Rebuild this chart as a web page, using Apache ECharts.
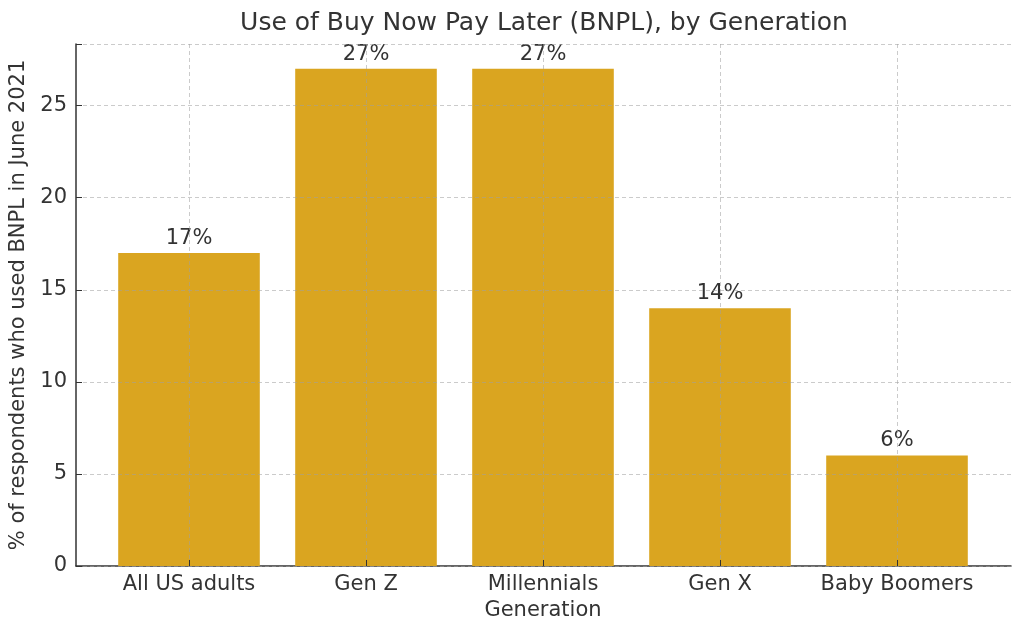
<!DOCTYPE html>
<html>
<head>
<meta charset="utf-8">
<script src="https://cdn.jsdelivr.net/npm/echarts@6/dist/echarts.min.js"></script>
<style>html,body{margin:0;padding:0;background:#fff}#c{width:1024px;height:635px}</style>
</head>
<body>
<div id="c"></div>
<script>
const categories = ['All US adults', 'Gen Z', 'Millennials', 'Gen X', 'Baby Boomers'];
const values = [17, 27, 27, 14, 6];
const yTicks = [0, 5, 10, 15, 20, 25];

const FONT = 'DejaVu Sans';
const TXT = '#333333';
const yMax = 28.35;

const chart = echarts.init(document.getElementById('c'), null, {renderer: 'canvas'});
chart.setOption({
  animation: false,
  backgroundColor: '#ffffff',
  textStyle: {fontFamily: FONT},
  title: {
    text: 'Use of Buy Now Pay Later (BNPL), by Generation',
    left: 539, textAlign: 'center', top: 6,
    textStyle: {fontFamily: FONT, fontSize: 25, fontWeight: 'normal', color: TXT}
  },
  grid: [
    {left: 76, right: 13, top: 44, bottom: 69, containLabel: false},
    {left: 189, right: 127, top: 44, bottom: 69, containLabel: false}
  ],
  xAxis: [
    {gridIndex: 0, type: 'value', min: 0, max: 1, show: true,
     axisLine: {show: true, lineStyle: {color: TXT, width: 1.5}},
     axisTick: {show: false}, axisLabel: {show: false}, splitLine: {show: false}},
    {gridIndex: 1, type: 'category', data: categories, boundaryGap: false, z: 5,
     axisLine: {show: false},
     axisTick: {show: true, inside: true, length: 6, interval: 0, lineStyle: {color: TXT}},
     axisLabel: {color: TXT, fontSize: 21, fontFamily: FONT, margin: 8, interval: 0},
     splitLine: {show: true, interval: 0, lineStyle: {color: 'rgba(160,160,160,0.55)', type: [4, 3], width: 1}},
     name: 'Generation', nameLocation: 'middle', nameGap: 33,
     nameTextStyle: {color: TXT, fontSize: 21, fontFamily: FONT}}
  ],
  yAxis: [
    {gridIndex: 0, type: 'value', min: 0, max: yMax, interval: 5, z: 5,
     axisLine: {show: true, lineStyle: {color: TXT, width: 1.5}},
     axisTick: {show: true, inside: true, length: 6, lineStyle: {color: TXT}},
     axisLabel: {color: TXT, fontSize: 21, fontFamily: FONT, margin: 9,
       formatter: v => (yTicks.indexOf(v) >= 0 ? String(v) : '')},
     splitLine: {show: true, lineStyle: {color: 'rgba(160,160,160,0.55)', type: [4, 3], width: 1}},
     name: '% of respondents who used BNPL in June 2021', nameLocation: 'middle', nameGap: 37,
     nameTextStyle: {color: TXT, fontSize: 21, fontFamily: FONT}},
    {gridIndex: 1, type: 'value', min: 0, max: yMax, show: false, splitLine: {show: false}}
  ],
  series: [{
    type: 'bar',
    xAxisIndex: 1, yAxisIndex: 1,
    data: values,
    barWidth: '80%',
    clip: false,
    itemStyle: {color: '#DAA520'},
    label: {show: true, position: 'top', distance: 4, formatter: '{c}%',
      color: TXT, fontSize: 21, fontFamily: FONT}
  }]
});
</script>
</body>
</html>
